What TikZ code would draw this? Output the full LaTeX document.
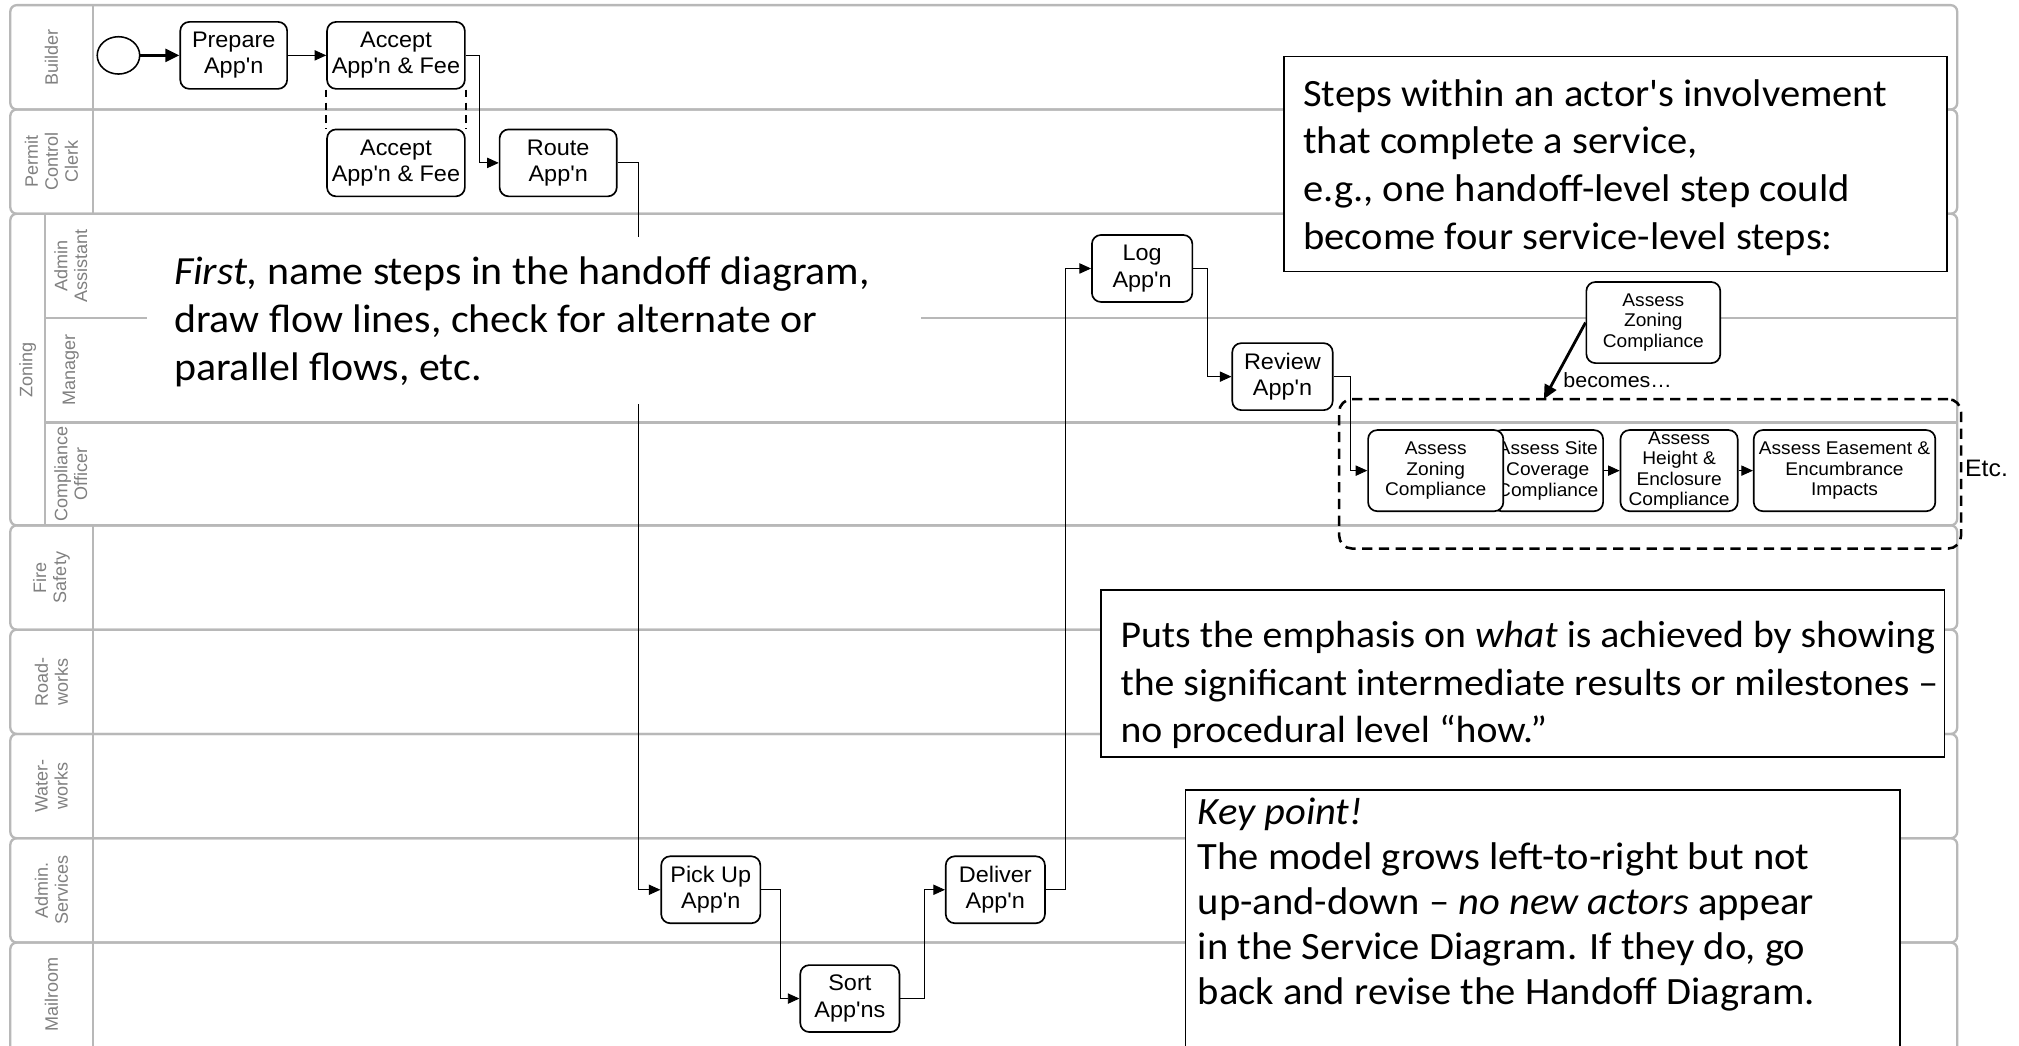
\documentclass[tikz,border=0pt]{standalone}
\usepackage{fontspec}
\setmainfont{Carlito}[Ligatures=TeXOff, FakeStretch=1.05]
\newfontfamily\arialf{Liberation Sans}[Ligatures=TeXOff]
\newfontfamily\arialw{Liberation Sans}[Ligatures=TeXOff, FakeStretch=1.04]
\usetikzlibrary{arrows.meta,shapes.geometric}
\begin{document}
\begin{tikzpicture}[x=1pt,y=-1pt,
  lane/.style={draw=black!28, line width=1.8pt, rounded corners=5pt},
  lanesep/.style={draw=black!28, line width=1.8pt},
  lanelabel/.style={text=black!50, font=\arialf\fontsize{14}{15.5}\selectfont, rotate=90, align=center, inner sep=0pt},
  task/.style={draw, line width=1.3pt, rounded corners=7pt, fill=white, align=center, inner sep=0pt, font=\arialw\fontsize{17.5}{20.5}\selectfont},
  stask/.style={task, font=\arialw\fontsize{14.3}{16}\selectfont},
  flow/.style={line width=0.7pt, -{Triangle[length=9pt,width=8pt]}},
  bigflow/.style={line width=2.2pt, -{Triangle[length=11pt,width=10pt]}},
  handoff/.style={line width=1.3pt, dash pattern=on 6pt off 4pt},
  groupbox/.style={draw, line width=2pt, dash pattern=on 8pt off 5pt, rounded corners=10pt},
  notebox/.style={draw, line width=1.2pt, fill=white, inner sep=0pt},
  notetext/.style={align=left, inner sep=0pt, font=\fontsize{30}{37}\selectfont},
  smalltext/.style={font=\arialw\fontsize{16}{18}\selectfont, inner sep=0pt}
]
\useasboundingbox (0,0) rectangle (1568,812);
\clip (0,0) rectangle (1568,812);
\fill[white] (0,0) rectangle (1568,812);

% ---------- lanes ----------
\draw[lane] (8,4) rectangle (1520,85);
\draw[lanesep] (72,4) -- (72,85);
\node[lanelabel] (lb1) at (40,44.5) {Builder};

\draw[lane] (8,85) rectangle (1520,166);
\draw[lanesep] (72,85) -- (72,166);
\node[lanelabel] (lb2) at (40,125.5) {Permit\\Control\\Clerk};

\draw[lane] (8,166) rectangle (1520,408);
\draw[lanesep] (35,166) -- (35,408);
\draw[lanesep] (35,247) -- (1520,247);
\draw[lanesep] (35,328) -- (1520,328);
\node[lanelabel] (lb3) at (21.5,287) {Zoning};
\node[lanelabel] (lb3a) at (55,206.5) {Admin\\Assistant};
\node[lanelabel] (lb3b) at (55,287.5) {Manager};
\node[lanelabel] (lb3c) at (55,368) {Compliance\\Officer};

\draw[lane] (8,408) rectangle (1520,489);
\draw[lanesep] (72,408) -- (72,489);
\node[lanelabel] (lb4) at (40,448.5) {Fire\\Safety};

\draw[lane] (8,489) rectangle (1520,570);
\draw[lanesep] (72,489) -- (72,570);
\node[lanelabel] (lb5) at (40,529.5) {Road-\\works};

\draw[lane] (8,570) rectangle (1520,651);
\draw[lanesep] (72,570) -- (72,651);
\node[lanelabel] (lb6) at (40,610.5) {Water-\\works};

\draw[lane] (8,651) rectangle (1520,732);
\draw[lanesep] (72,651) -- (72,732);
\node[lanelabel] (lb7) at (40,691.5) {Admin.\\Services};

\draw[lane] (8,732) rectangle (1520,822);
\draw[lanesep] (72,732) -- (72,822);
\node[lanelabel] (lb8) at (40,772) {Mailroom};

% ---------- handoff-level steps ----------
\node[ellipse, draw, line width=1.2pt, minimum width=33pt, minimum height=29pt, inner sep=0pt, fill=white] (start) at (92,43) {};
\node[task, minimum width=83pt, minimum height=52pt] (prep) at (181.5,43) {Prepare\\App'n};
\node[task, minimum width=107pt, minimum height=52pt] (accB) at (307.5,43) {Accept\\App'n \& Fee};
\node[task, minimum width=107pt, minimum height=52pt] (accC) at (307.5,126.5) {Accept\\App'n \& Fee};
\node[task, minimum width=91pt, minimum height=52pt] (route) at (433.5,126.5) {Route\\App'n};
\node[task, minimum width=77pt, minimum height=52pt] (pick) at (552,691) {Pick Up\\App'n};
\node[task, minimum width=77pt, minimum height=52pt] (sort) at (660,775.5) {Sort\\App'ns};
\node[task, minimum width=77pt, minimum height=52pt] (deliv) at (773,691) {Deliver\\App'n};
\node[task, minimum width=78pt, minimum height=52pt] (log) at (887,208.5) {Log\\App'n};
\node[task, minimum width=78pt, minimum height=52pt] (review) at (996,292.5) {Review\\App'n};

% ---------- service-level steps ----------
\node[groupbox, minimum width=483pt, minimum height=116pt] (dbox) at (1281.5,368) {};
\node[stask, minimum width=86pt, minimum height=63pt] (asite) at (1202,365.5) {Assess Site\\Coverage\\Compliance};
\node[stask, minimum width=105pt, minimum height=63pt] (azone) at (1115,365.5) {Assess\\Zoning\\Compliance};
\node[stask, minimum width=91pt, minimum height=63pt] (aheight) at (1304,365.5) {Assess\\Height \&\\Enclosure\\Compliance};
\node[stask, minimum width=141pt, minimum height=63pt] (aease) at (1432.5,365.5) {Assess Easement \&\\Encumbrance\\Impacts};
\node[stask, minimum width=104pt, minimum height=63pt] (atop) at (1284,250.5) {Assess\\Zoning\\Compliance};
\node[font=\arialw\fontsize{18.5}{20}\selectfont, anchor=west, inner sep=0pt] (etc) at (1526,364) {Etc.};
\coordinate (becpt) at (1199,310);
\node[smalltext, anchor=west] (becl) at (1214,295) {becomes…};

% ---------- connectors ----------
\draw[bigflow] (start) -- (prep);
\draw[flow] (prep) -- (accB);
\draw[handoff] (accB.south west) -- (accC.north west);
\draw[handoff] (accB.south east) -- (accC.north east);
\draw[flow] (accB.east) -- ++(11,0) |- (route.west);
\draw[flow] (route.east) -- ++(16,0) |- (pick.west);
\draw[flow] (pick.east) -- ++(15,0) |- (sort.west);
\draw[flow] (sort.east) -- ++(19,0) |- (deliv.west);
\draw[flow] (deliv.east) -- ++(15,0) |- (log.west);
\draw[flow] (log.east) -- ++(11,0) |- (review.west);
\draw[flow] (review.east) -- ++(13,0) |- (azone.west);
\draw[flow] (asite.east) -- (aheight.west);
\draw[flow] (aheight.east) -- (aease.west);
\draw[bigflow] (atop.west) -- (becpt);

% ---------- annotations ----------
\fill[white] (114,184) rectangle (715,314);
\node[notetext, anchor=west, font=\fontsize{31}{37}\selectfont] (first) at (135,250) {\emph{First,} name steps in the handoff diagram,\\draw flow lines, check for alternate or\\parallel flows, etc.};

\node[notebox, minimum width=515pt, minimum height=167pt] (n1) at (1254.5,127.5) {};
\node[notetext, anchor=west] (n1t) at (1012,130) {Steps within an actor's involvement\\that complete a service,\\e.g., one handoff-level step could\\become four service-level steps:};

\node[notebox, minimum width=655pt, minimum height=130pt] (n2) at (1182.5,523) {};
\node[notetext, anchor=west, font=\fontsize{29.4}{37}\selectfont] (n2t) at (870,532) {Puts the emphasis on \emph{what} is achieved by showing\\the significant intermediate results or milestones –\\no procedural level “how.”};

\node[notebox, minimum width=555pt, minimum height=230pt, anchor=north west] (n3) at (920,613) {};
\node[notetext, anchor=west, font=\fontsize{30}{35}\selectfont] (n3t) at (930,702.5) {\emph{Key point!}\\The model grows left-to-right but not\\up-and-down – \emph{no new actors} appear\\in the Service Diagram. If they do, go\\back and revise the Handoff Diagram.};
\end{tikzpicture}
\end{document}
